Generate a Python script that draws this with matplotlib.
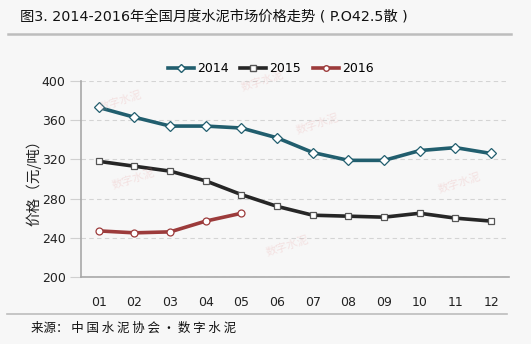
import matplotlib
matplotlib.use("Agg")
import matplotlib.pyplot as plt
from matplotlib.lines import Line2D

plt.rcParams['font.family'] = ['DejaVu Sans', 'Noto Sans CJK SC']

months = ["01", "02", "03", "04", "05", "06", "07", "08", "09", "10", "11", "12"]
price_2014 = [373, 363, 354, 354, 352, 342, 327, 319, 319, 329, 332, 326]
price_2015 = [318, 313, 308, 298, 284, 272, 263, 262, 261, 265, 260, 257]
price_2016 = [247, 245, 246, 257, 265]
y_ticks = [200, 240, 280, 320, 360, 400]

bg = "#f7f7f7"
c2014 = "#215e6e"
c2015 = "#262626"
c2016 = "#9c3b3b"
cjk = ['Noto Sans CJK SC', 'DejaVu Sans']

fig = plt.figure(figsize=(5.31, 3.44), dpi=100, facecolor=bg)
ax = fig.add_axes([0.1525, 0.195, 0.806, 0.5695], facecolor=bg)

x = list(range(len(months)))
ax.plot(x, price_2014, '-D', color=c2014, lw=2.6, ms=5,
        mfc="white", mec=c2014, mew=0.9, label="2014")
ax.plot(x, price_2015, '-s', color=c2015, lw=2.6, ms=5,
        mfc="white", mec="#555555", mew=0.9, label="2015")
ax.plot(x[:len(price_2016)], price_2016, '-o', color=c2016, lw=2.6, ms=5,
        mfc="white", mec=c2016, mew=0.9, label="2016")

ax.set_xlim(-0.5, 11.5)
ax.set_ylim(200, 400)
ax.set_xticks(x)
ax.set_xticklabels(months)
ax.set_yticks(y_ticks)
ax.tick_params(axis='both', labelsize=9, colors="#222222")
ax.tick_params(axis='x', length=0, pad=14)
ax.tick_params(axis='y', length=8, color="#d0d0d0", pad=3)
ax.grid(axis='y', ls=(0, (4, 3)), color="#d4d4d4", lw=0.8)
ax.set_axisbelow(True)
for s in ["top", "right"]:
    ax.spines[s].set_visible(False)
for s in ["left", "bottom"]:
    ax.spines[s].set_color("#a8a8a8")
    ax.spines[s].set_linewidth(1.2)
ax.set_ylabel("价格（元/吨）", fontsize=10.5, color="#222222", family=cjk)
ax.yaxis.set_label_coords(-0.092, 0.5)

# watermarks
marks = [(0.04, 0.90), (0.50, 0.78), (0.07, 0.50), (0.43, 0.16), (0.83, 0.48), (0.37, 1.0)]
for mx, my in marks:
    ax.text(mx, my, "数字水泥", transform=ax.transAxes, fontsize=8, color="#e8a0a0",
            alpha=0.25, rotation=18, ha="left", va="center", family=cjk)

handles = [Line2D([], [], color=c2014, lw=2.6, marker='D', ms=4, mfc="white", mec=c2014),
           Line2D([], [], color=c2015, lw=2.6, marker='s', ms=4, mfc="white", mec="#555555"),
           Line2D([], [], color=c2016, lw=2.6, marker='o', ms=4, mfc="white", mec=c2016)]
fig.legend(handles, ["2014", "2015", "2016"], loc="center", bbox_to_anchor=(0.51, 0.80),
           ncol=3, frameon=False, fontsize=9, handlelength=2.1, handletextpad=0.25,
           columnspacing=0.9)

fig.text(0.038, 0.953, "图3. 2014-2016年全国月度水泥市场价格走势 ( P.O42.5散 )",
         fontsize=10.3, ha="left", va="center", color="#111111")
fig.add_artist(Line2D([0.015, 0.963], [0.902, 0.902], color="#bdbdbd", lw=1.8))
fig.add_artist(Line2D([0.013, 0.955], [0.088, 0.088], color="#bdbdbd", lw=1.2))
fig.text(0.058, 0.045, "来源： 中 国 水 泥 协 会 · 数 字 水 泥", fontsize=9,
         ha="left", va="center", color="#111111", family=cjk)

fig.savefig("out.png", dpi=100, facecolor=bg)
